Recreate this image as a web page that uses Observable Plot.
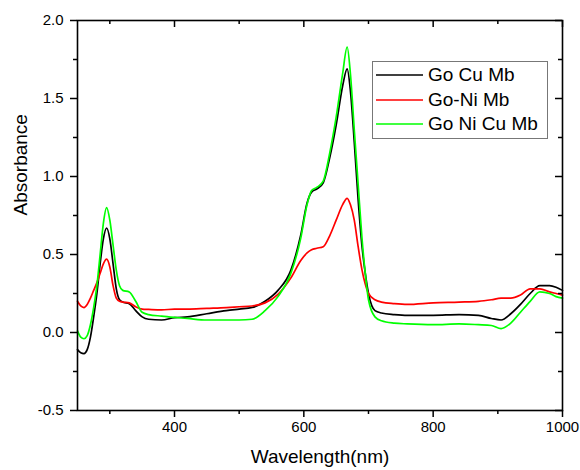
<!DOCTYPE html>
<html>
<head>
<meta charset="utf-8">
<script src="https://cdn.jsdelivr.net/npm/d3@7"></script>
<script src="https://cdn.jsdelivr.net/npm/@observablehq/plot@0.6"></script>
<style>
  body { margin: 0; background: #fff; }
  #wrap { position: relative; width: 580px; height: 470px; font-family: "Liberation Sans", Arial, sans-serif; }
  #legend { position: absolute; left: 372px; top: 61px; width: 176px; height: 78px; border: 1px solid #777; background: #fff; box-sizing: border-box; padding-top: 1px; }
  .row { display: flex; align-items: center; height: 24.5px; font-size: 19px; color: #000; white-space: nowrap; }
  .row svg { margin-left: 3px; margin-right: 5px; }
</style>
</head>
<body>
<div id="wrap"></div>
<script>
// Wavelength (nm) sample points shared by all series
const wavelength = [250,255,260,265,270,275,280,285,290,295,300,305,310,315,320,330,340,350,360,380,400,420,450,480,500,520,540,560,580,595,605,612,620,630,640,650,660,667,672,678,684,690,695,700,710,720,740,760,800,840,870,890,905,920,935,950,965,980,990,1000];

const goCuMb = [-0.11,-0.13,-0.135,-0.11,-0.03,0.10,0.25,0.44,0.60,0.67,0.60,0.44,0.28,0.21,0.195,0.185,0.14,0.10,0.085,0.08,0.095,0.10,0.12,0.14,0.15,0.16,0.20,0.27,0.40,0.62,0.83,0.90,0.92,0.96,1.12,1.33,1.58,1.69,1.55,1.22,0.85,0.55,0.38,0.25,0.14,0.125,0.115,0.11,0.11,0.115,0.11,0.09,0.08,0.12,0.18,0.25,0.30,0.30,0.29,0.27];

const goNiMb = [0.20,0.17,0.16,0.18,0.22,0.27,0.32,0.38,0.44,0.47,0.42,0.30,0.22,0.20,0.195,0.19,0.165,0.15,0.148,0.145,0.15,0.15,0.155,0.16,0.165,0.17,0.19,0.245,0.35,0.46,0.51,0.53,0.54,0.55,0.62,0.72,0.82,0.86,0.82,0.72,0.55,0.40,0.31,0.25,0.21,0.195,0.185,0.18,0.19,0.195,0.20,0.21,0.22,0.22,0.24,0.28,0.28,0.26,0.25,0.24];

const goNiCuMb = [0.01,-0.03,-0.04,-0.02,0.05,0.16,0.30,0.50,0.70,0.80,0.72,0.56,0.40,0.30,0.27,0.26,0.20,0.13,0.115,0.105,0.097,0.09,0.08,0.08,0.08,0.085,0.14,0.23,0.38,0.60,0.82,0.91,0.93,0.97,1.15,1.38,1.66,1.83,1.66,1.30,0.95,0.60,0.38,0.21,0.10,0.075,0.06,0.055,0.05,0.055,0.05,0.045,0.025,0.06,0.13,0.20,0.26,0.25,0.23,0.22];

const seriesNames = ["Go Cu Mb", "Go-Ni Mb", "Go Ni Cu Mb"];
const seriesColors = ["#000000", "#ff0000", "#00ff00"];
const seriesValues = [goCuMb, goNiMb, goNiCuMb];

const xMajorTicks = [400, 600, 800, 1000];
const xMinorTicks = [300, 500, 700, 900];
const yMajorTicks = [-0.5, 0, 0.5, 1.0, 1.5, 2.0];
const yMinorTicks = [-0.25, 0.25, 0.75, 1.25, 1.75];

const rows = [];
seriesValues.forEach((vals, i) => {
  vals.forEach((v, j) => rows.push({series: seriesNames[i], wl: wavelength[j], a: v}));
});

const W = 580, H = 470, ML = 77, MR = 18, MT = 20, MB = 60;
const innerW = W - ML - MR, innerH = H - MT - MB;
const MAJ = 7, MIN = 4;
const tickStyle = {stroke: "#000", strokeWidth: 1.5};

const lineMarks = seriesNames.map((name, i) =>
  Plot.line(rows.filter(d => d.series === name), {x: "wl", y: "a", stroke: seriesColors[i], strokeWidth: 1.7, curve: "monotone-x"})
);

const chart = Plot.plot({
  width: W,
  height: H,
  marginLeft: ML,
  marginRight: MR,
  marginTop: MT,
  marginBottom: MB,
  style: {fontFamily: "Liberation Sans, Arial, sans-serif", fontSize: "15px", color: "#000", background: "#fff", overflow: "visible"},
  x: {domain: [250, 1000]},
  y: {domain: [-0.5, 2.0]},
  marks: [
    ...lineMarks,
    Plot.frame({stroke: "#000", strokeWidth: 1.6}),
    // bottom: outward ticks
    Plot.tickX(xMajorTicks, {x: d => d, insetTop: innerH, insetBottom: -MAJ, ...tickStyle}),
    Plot.tickX(xMinorTicks, {x: d => d, insetTop: innerH, insetBottom: -MIN, ...tickStyle}),
    // top: inward ticks
    Plot.tickX(xMajorTicks, {x: d => d, insetBottom: innerH - MAJ, ...tickStyle}),
    Plot.tickX(xMinorTicks, {x: d => d, insetBottom: innerH - MIN, ...tickStyle}),
    // left: outward ticks
    Plot.tickY(yMajorTicks, {y: d => d, insetRight: innerW, insetLeft: -MAJ, ...tickStyle}),
    Plot.tickY(yMinorTicks, {y: d => d, insetRight: innerW, insetLeft: -MIN, ...tickStyle}),
    // right: inward ticks
    Plot.tickY(yMajorTicks, {y: d => d, insetLeft: innerW - MAJ, ...tickStyle}),
    Plot.tickY(yMinorTicks, {y: d => d, insetLeft: innerW - MIN, ...tickStyle}),
    Plot.axisX({anchor: "bottom", ticks: xMajorTicks, tickSize: 0, tickPadding: 11, tickFormat: d => String(d), label: null}),
    Plot.axisY({anchor: "left", ticks: yMajorTicks, tickSize: 0, tickPadding: 14, tickFormat: d => d.toFixed(1), label: null}),
    Plot.text(["Wavelength(nm)"], {frameAnchor: "bottom", dy: 52, fontSize: 19, fill: "#000"}),
    Plot.text(["Absorbance"], {frameAnchor: "left", rotate: -90, dx: -57, fontSize: 19, fill: "#000"})
  ]
});

const wrap = document.getElementById("wrap");
wrap.appendChild(chart);

const legend = document.createElement("div");
legend.id = "legend";
seriesNames.forEach((name, i) => {
  const row = document.createElement("div");
  row.className = "row";
  row.innerHTML = `<svg width="47" height="4"><line x1="0" x2="47" y1="2" y2="2" stroke="${seriesColors[i]}" stroke-width="1.7"/></svg><span>${name}</span>`;
  legend.appendChild(row);
});
wrap.appendChild(legend);
</script>
</body>
</html>
